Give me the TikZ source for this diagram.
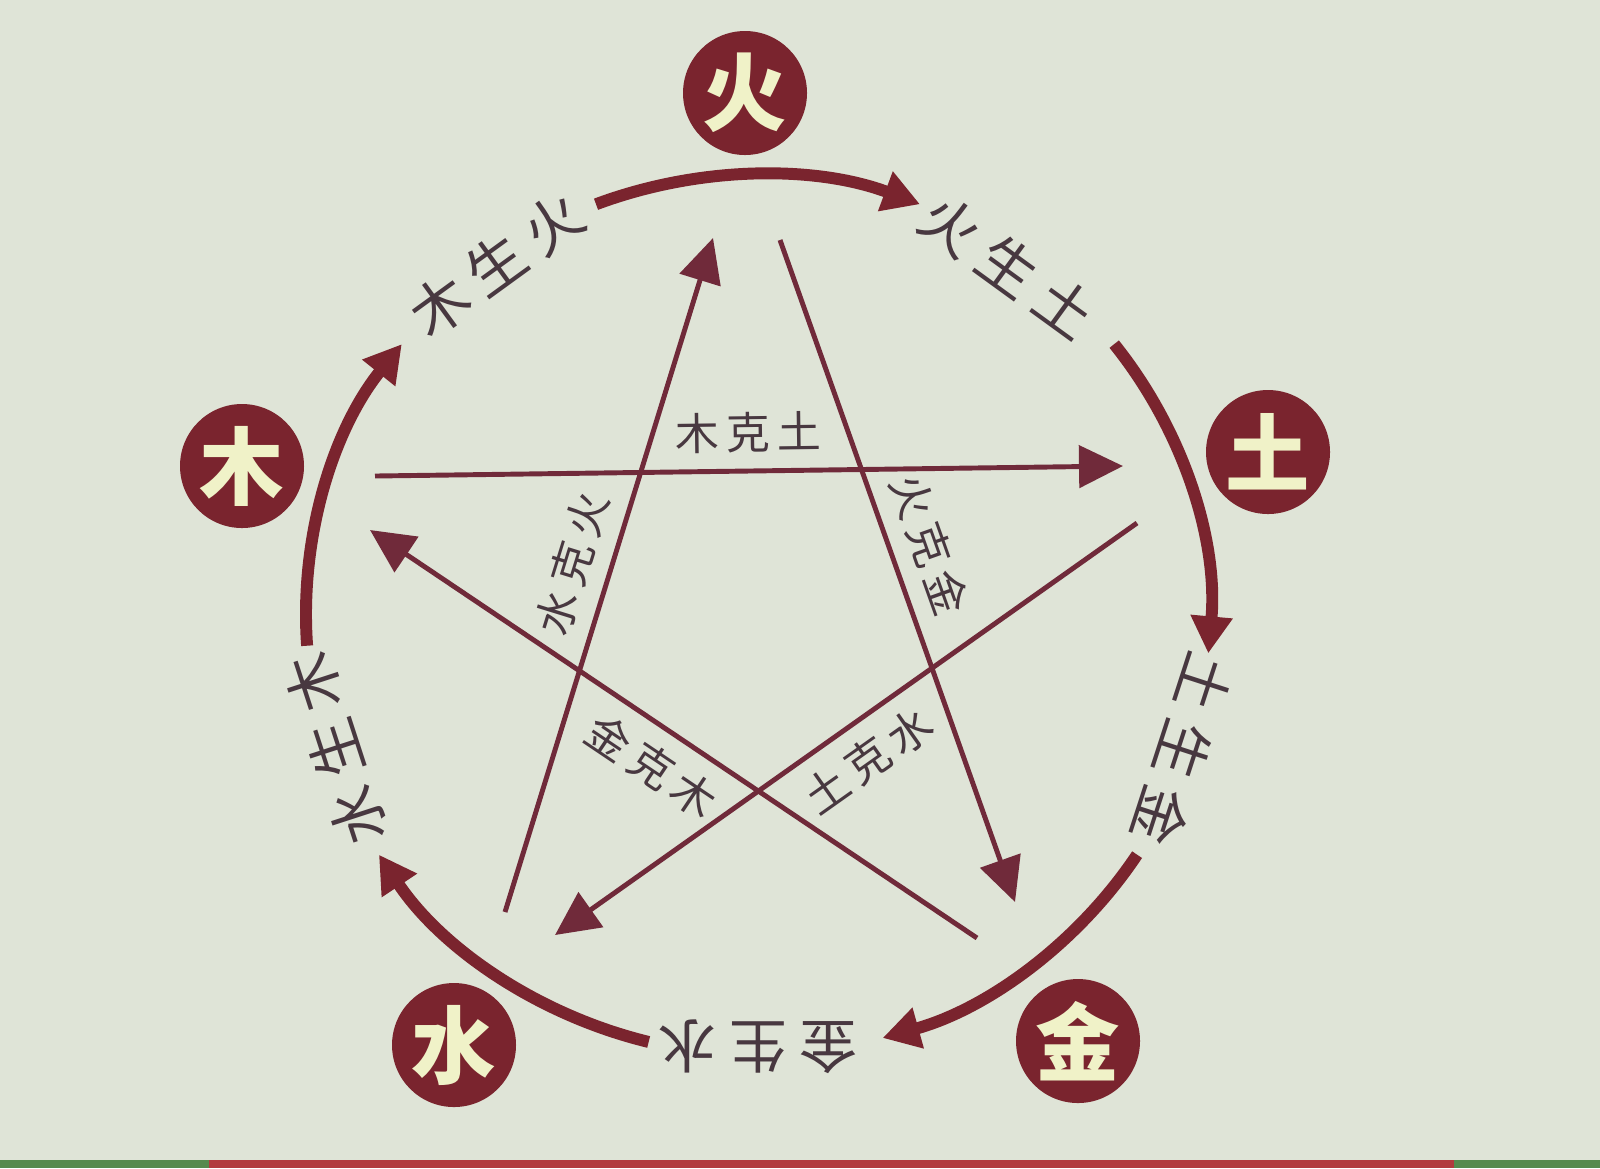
\documentclass[tikz,border=0pt]{standalone}
\usepackage{fontspec}
\setmainfont{Noto Sans CJK SC}
\usetikzlibrary{arrows.meta, positioning}
\definecolor{bgGreen}{RGB}{223,228,215}
\definecolor{mainRed}{RGB}{122,36,46}
\definecolor{lineRed}{RGB}{112,42,58}
\definecolor{paleYellow}{RGB}{240,242,200}
\definecolor{labelGray}{RGB}{72,56,64}
\definecolor{bandRed}{RGB}{178,58,62}
\definecolor{bandGreen}{RGB}{86,138,78}

\tikzset{
  elemNode/.style={circle, fill=mainRed, text=paleYellow, minimum size=1.24cm, inner sep=0pt,
    font=\bfseries\fontsize{24}{24}\selectfont},
  shengArc/.style={mainRed, line width=3.4pt, -{Triangle[length=0.37cm, width=0.40cm]}},
  keLine/.style={lineRed, line width=1.4pt, -{Triangle[length=0.44cm, width=0.42cm]}},
  shengLabel/.style={text=labelGray, inner sep=0pt, font=\fontsize{16.5}{16.5}\selectfont},
  keLabel/.style={text=labelGray, inner sep=0pt, font=\fontsize{12.5}{12.5}\selectfont},
}

\begin{document}
\begin{tikzpicture}
    \useasboundingbox (0,0) rectangle (16,-11.68);
    \fill[bgGreen] (0,0) rectangle (16,-11.68);
    % strip at the bottom edge
    \fill[bandGreen] (0,-11.60) rectangle (16,-11.68);
    \fill[bandRed] (2.09,-11.60) rectangle (14.54,-11.68);

    % five elements
    \node[elemNode] (huo)  at (7.45,-0.93)  {火};
    \node[elemNode] (tu)   at (12.68,-4.52) {土};
    \node[elemNode] (jin)  at (10.78,-10.41) {金};
    \node[elemNode] (shui) at (4.54,-10.45) {水};
    \node[elemNode] (mu)   at (2.42,-4.66)  {木};

    % sheng cycle (outer ring)
    \begin{scope}[shift={(7.58,-6.15)}]
        \draw[shengArc] (111:4.52 and 4.40) arc[start angle=111, end angle=69, x radius=4.52, y radius=4.40];
        \draw[shengArc] (38:4.52 and 4.40) arc[start angle=38, end angle=-5, x radius=4.52, y radius=4.40];
        \draw[shengArc] (-33:4.52 and 4.40) arc[start angle=-33, end angle=-74, x radius=4.52, y radius=4.40];
        \draw[shengArc] (-104:4.52 and 4.40) arc[start angle=-104, end angle=-147, x radius=4.52, y radius=4.40];
        \draw[shengArc] (184:4.52 and 4.40) arc[start angle=184, end angle=142, x radius=4.52, y radius=4.40];

        \node[shengLabel, rotate=36]   (muShengHuo)   at (126:4.45 and 4.33)  {木\kern3.5pt生\kern3.5pt火};
        \node[shengLabel, rotate=-36]  (huoShengTu)   at (55:4.36 and 4.25)   {火\kern3.5pt生\kern3.5pt土};
        \node[shengLabel, rotate=-108] (tuShengJin)   at (-18:4.47 and 4.36)  {土\kern3.5pt生\kern3.5pt金};
        \node[shengLabel, rotate=180]  (jinShengShui) at (-90:4.52 and 4.32)  {金\kern3.5pt生\kern3.5pt水};
        \node[shengLabel, rotate=108]  (shuiShengMu)  at (-162:4.44 and 4.34) {水\kern3.5pt生\kern3.5pt木};
    \end{scope}

    % ke cycle (inner star)
    \coordinate (muOut)   at (3.75,-4.76);
    \coordinate (muIn)    at (3.70,-5.30);
    \coordinate (huoOut)  at (7.80,-2.40);
    \coordinate (huoIn)   at (7.13,-2.38);
    \coordinate (tuOut)   at (11.37,-5.23);
    \coordinate (tuIn)    at (11.23,-4.66);
    \coordinate (jinOut)  at (9.77,-9.38);
    \coordinate (jinIn)   at (10.15,-9.02);
    \coordinate (shuiOut) at (5.05,-9.12);
    \coordinate (shuiIn)  at (5.55,-9.35);

    \draw[keLine] (muOut) -- (tuIn) node[keLabel, midway, sloped, above=4.5pt] (muKeTu) {木\kern2pt克\kern2pt土};
    \draw[keLine] (huoOut) -- (jinIn) node[keLabel, pos=0.48, sloped, above=4.5pt] (huoKeJin) {火\kern2pt克\kern2pt金};
    \draw[keLine] (tuOut) -- (shuiIn) node[keLabel, midway, sloped, below=4.5pt] (tuKeShui) {土\kern2pt克\kern2pt水};
    \draw[keLine] (jinOut) -- (muIn) node[keLabel, midway, sloped, below=4.5pt] (jinKeMu) {金\kern2pt克\kern2pt木};
    \draw[keLine] (shuiOut) -- (huoIn) node[keLabel, midway, sloped, above=4.5pt] (shuiKeHuo) {水\kern2pt克\kern2pt火};
\end{tikzpicture}
\end{document}
